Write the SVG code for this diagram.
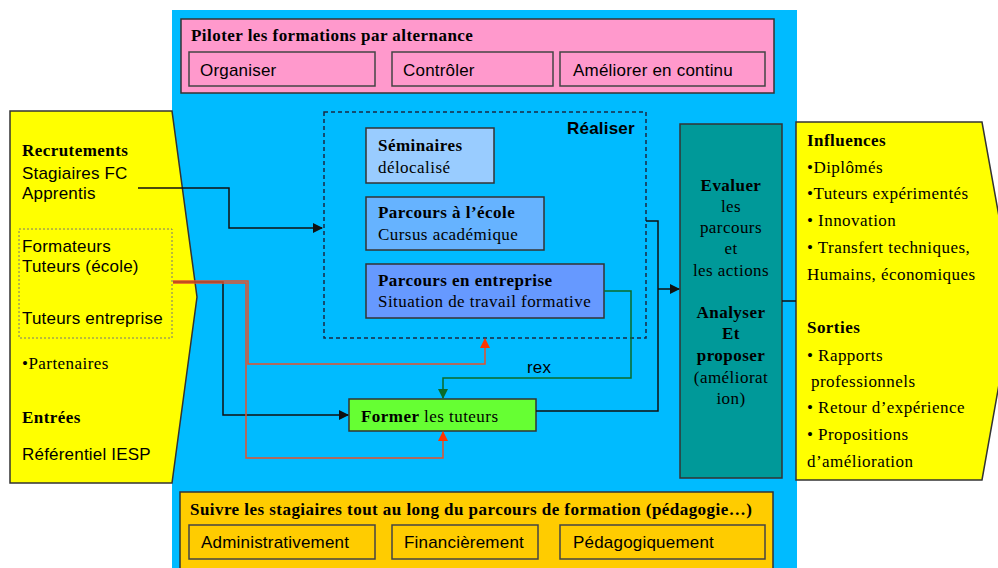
<svg xmlns="http://www.w3.org/2000/svg" width="998" height="568" viewBox="0 0 998 568">
<defs>
<style>
.sans{font-family:"Liberation Sans",Arial,sans-serif;font-size:17px;fill:#000;letter-spacing:0.2px}
.serif{font-family:"Liberation Serif","Times New Roman",serif;font-size:17px;fill:#000;letter-spacing:0.45px}
.b{font-weight:bold}
.box{stroke:#333;stroke-width:1.5}
.sub{stroke:#444;stroke-width:1.5;fill:none}
.blk{fill:none;stroke:#111;stroke-width:1.5}
.red{fill:none;stroke:#e8502a;stroke-width:1.5}
.grn{fill:none;stroke:#0a6b2a;stroke-width:1.5}
</style>
<marker id="ab" markerWidth="10" markerHeight="10" refX="9" refY="5" orient="auto" markerUnits="userSpaceOnUse"><path d="M0,0 L10,5 L0,10 z" fill="#111"/></marker>
<marker id="ar" markerWidth="10" markerHeight="10" refX="9" refY="5" orient="auto" markerUnits="userSpaceOnUse"><path d="M0,0 L10,5 L0,10 z" fill="#ff3300"/></marker>
<marker id="ag" markerWidth="10" markerHeight="10" refX="9" refY="5" orient="auto" markerUnits="userSpaceOnUse"><path d="M0,0 L10,5 L0,10 z" fill="#0a6b2a"/></marker>
</defs>
<rect x="0" y="0" width="998" height="568" fill="#fff"/>
<rect id="background" x="172" y="10" width="625" height="558" fill="#00bbff"/>

<g id="piloter">
<rect class="box" x="181" y="19" width="593" height="74" fill="#ff99cc"/>
<text class="serif b" x="191" y="41">Piloter les formations par alternance</text>
<rect class="sub" x="189" y="52" width="186" height="34"/>
<text class="sans" x="200" y="76">Organiser</text>
<rect class="sub" x="392" y="52" width="161" height="34"/>
<text class="sans" x="403" y="76">Contrôler</text>
<rect class="sub" x="560" y="52" width="205" height="34"/>
<text class="sans" x="573" y="76">Améliorer en continu</text>
</g>

<g id="entrees">
<path class="box" d="M10,111 L172,111 L197,297 L172,483 L10,483 Z" fill="#ffff00"/>
<text class="serif b" x="22" y="156">Recrutements</text>
<text class="sans" x="22" y="179">Stagiaires FC</text>
<text class="sans" x="22" y="199">Apprentis</text>
<rect x="19" y="229" width="153" height="109" fill="none" stroke="#777" stroke-width="1" stroke-dasharray="2,2"/>
<text class="sans" x="22" y="252">Formateurs</text>
<text class="sans" x="22" y="272">Tuteurs (école)</text>
<text class="sans" x="22" y="324">Tuteurs entreprise</text>
<text class="serif" x="22" y="369" font-size="16">•Partenaires</text>
<text class="serif b" x="22" y="423">Entrées</text>
<text class="sans" x="22" y="460">Référentiel IESP</text>
</g>

<g id="realiser">
<rect x="324" y="112" width="322" height="226" fill="none" stroke="#1a2a44" stroke-width="1.5" stroke-dasharray="4,3"/>
<text class="sans b" x="567" y="134">Réaliser</text>
</g>

<g id="seminaires">
<rect class="box" x="366" y="128" width="128" height="55" fill="#99ccff"/>
<text class="serif b" x="378" y="151">Séminaires</text>
<text class="serif" x="378" y="173">délocalisé</text>
</g>

<g id="parcours-ecole">
<rect class="box" x="366" y="197" width="178" height="53" fill="#66b3ff"/>
<text class="serif b" x="378" y="218">Parcours à l’école</text>
<text class="serif" x="378" y="240">Cursus académique</text>
</g>

<g id="parcours-entreprise">
<rect class="box" x="366" y="264" width="238" height="54" fill="#6699ff"/>
<text class="serif b" x="378" y="286">Parcours en entreprise</text>
<text class="serif" x="378" y="307">Situation de travail formative</text>
</g>

<g id="former">
<rect class="box" x="349" y="399" width="187" height="32" fill="#66ff33"/>
<text class="serif" x="361" y="422"><tspan font-weight="bold">Former</tspan> les tuteurs</text>
</g>

<g id="evaluer">
<rect class="box" x="680" y="124" width="102" height="354" fill="#009999"/>
<text class="serif b" x="731" y="191" text-anchor="middle">Evaluer</text>
<text class="serif" x="731" y="212" text-anchor="middle">les</text>
<text class="serif" x="731" y="233" text-anchor="middle">parcours</text>
<text class="serif" x="731" y="254" text-anchor="middle">et</text>
<text class="serif" x="731" y="276" text-anchor="middle">les actions</text>
<text class="serif b" x="731" y="318" text-anchor="middle">Analyser</text>
<text class="serif b" x="731" y="339" text-anchor="middle">Et</text>
<text class="serif b" x="731" y="361" text-anchor="middle">proposer</text>
<text class="serif" x="731" y="383" text-anchor="middle">(améliorat</text>
<text class="serif" x="731" y="404" text-anchor="middle">ion)</text>
</g>

<g id="sorties">
<path class="box" d="M796,122 L982,122 L1014,300 L982,480 L796,480 Z" fill="#ffff00"/>
<text class="serif b" x="807" y="146">Influences</text>
<text class="serif" x="807" y="173">•Diplômés</text>
<text class="serif" x="807" y="199">•Tuteurs expérimentés</text>
<text class="serif" x="807" y="226">• Innovation</text>
<text class="serif" x="807" y="253">• Transfert techniques,</text>
<text class="serif" x="807" y="280">Humains, économiques</text>
<text class="serif b" x="807" y="333">Sorties</text>
<text class="serif" x="807" y="361">• Rapports</text>
<text class="serif" x="811" y="387">professionnels</text>
<text class="serif" x="807" y="413">• Retour d’expérience</text>
<text class="serif" x="807" y="440">• Propositions</text>
<text class="serif" x="807" y="467">d’amélioration</text>
</g>

<g id="suivre">
<rect class="box" x="180" y="492" width="593" height="80" fill="#ffcc00"/>
<text class="serif b" x="190" y="515">Suivre les stagiaires tout au long du parcours de formation (pédagogie…)</text>
<rect class="sub" x="189" y="525" width="186" height="34"/>
<text class="sans" x="201" y="548">Administrativement</text>
<rect class="sub" x="392" y="525" width="146" height="34"/>
<text class="sans" x="404" y="548">Financièrement</text>
<rect class="sub" x="560" y="525" width="205" height="34"/>
<text class="sans" x="573" y="548">Pédagogiquement</text>
</g>

<g id="connectors">
<path class="blk" d="M138,188 H229 V228 H322" marker-end="url(#ab)"/>
<path class="blk" d="M173,282 H223 V415 H348" marker-end="url(#ab)"/>
<path class="red" d="M173,281 H248 V364 H485 V339" marker-end="url(#ar)"/>
<path class="red" d="M173,283 H246 V458 H443 V432" marker-end="url(#ar)"/>
<path class="grn" d="M604,291 H631 V378 H443 V398" marker-end="url(#ag)"/>
<text class="sans" x="527" y="373">rex</text>
<path class="blk" d="M646,221 H658 V411 H536"/>
<path class="blk" d="M658,289 H679" marker-end="url(#ab)"/>
<path class="blk" d="M782,301 H796"/>
</g>
</svg>
